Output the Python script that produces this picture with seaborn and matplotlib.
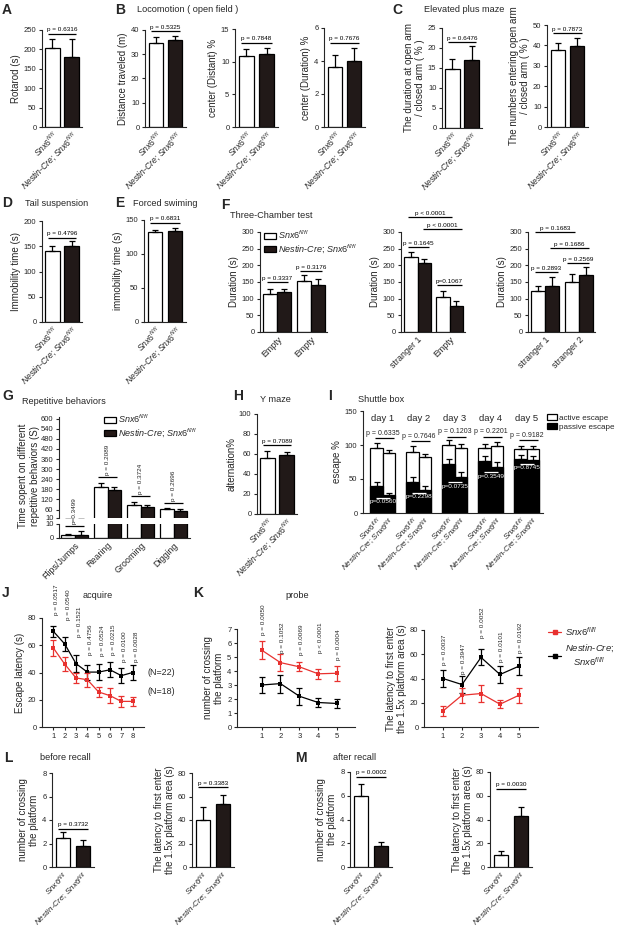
import numpy as np
import pandas as pd
import matplotlib.pyplot as plt
import seaborn as sns
from matplotlib.patches import Patch
from matplotlib.lines import Line2D

sns.set_style("ticks")
plt.rcParams['font.family'] = ['Liberation Sans', 'DejaVu Sans']
plt.rcParams['mathtext.fontset'] = 'custom'
plt.rcParams['mathtext.rm'] = 'Liberation Sans'
plt.rcParams['mathtext.it'] = 'Liberation Sans:italic'
plt.rcParams['axes.linewidth'] = 0.8

W, H = 617, 931
WHITE, DARK, RED = 'white', '#231816', '#e8312f'
TICK, LAB, XT, PFS, TITLE, LETTER = 5.5, 7, 6.2, 4.6, 6.6, 10

SNX = r"$\mathit{Snx6}^{\mathit{fl/fl}}$"
NES = r"$\mathit{Nestin}$-$\mathit{Cre}$; " + SNX
GENO = [SNX, NES]

# ---- data ----
rotarod, rotarod_err = [204, 181], [22, 45]
distance, distance_err = [34.8, 35.8], [2.4, 1.6]
center_dist, center_dist_err = [10.8, 11.2], [1.1, 0.9]
center_dur, center_dur_err = [3.65, 4.0], [0.7, 0.8]
epm_dur, epm_dur_err = [14.8, 16.9], [2.4, 3.6]
epm_num, epm_num_err = [37.8, 39.5], [3.5, 4.0]
tail, tail_err = [140, 151], [10, 9]
swim, swim_err = [132, 134], [4, 4]

f1_labels = ['Empty', 'Empty']
f1_snx, f1_snx_err = [114, 153], [15, 18]
f1_nes, f1_nes_err = [119, 141], [10, 18]
f2_labels = ['stranger 1', 'Empty']
f2_snx, f2_snx_err = [226, 106], [15, 18]
f2_nes, f2_nes_err = [207, 79], [12, 14]
f3_labels = ['stranger 1', 'stranger 2']
f3_snx, f3_snx_err = [123, 150], [16, 24]
f3_nes, f3_nes_err = [139, 171], [26, 24]

behaviors = ['Flips/Jumps', 'Rearing', 'Grooming', 'Digging']
rep_snx, rep_snx_err = [1.8, 193, 86, 63], [1.3, 23, 19, 9]
rep_nes, rep_nes_err = [2.3, 174, 76, 51], [2.5, 19, 14, 12]
rep_p = ['p=0.3499', 'p = 0.2089', 'p = 0.3724', 'p = 0.2696']
rep_p_y = [8.5, 251, 138, 99]

ymaze, ymaze_err = [55.7, 59], [7.6, 3]

days = ['day 1', 'day 2', 'day 3', 'day 4', 'day 5']
tot_snx, tot_snx_err = [96, 90, 100, 96, 94], [7, 8, 8, 5, 5]
tot_nes, tot_nes_err = [88, 82, 96, 98, 94], [5, 5, 6, 6, 4]
pas_snx, pas_snx_err = [39, 45, 72, 77, 80], [6, 8, 8, 7, 6]
pas_nes, pas_nes_err = [27, 34, 53, 68, 78], [3, 6, 7, 7, 6]
tot_p = ['p = 0.6335', 'p = 0.7646', 'p = 0.1203', 'p = 0.2201', 'p = 0.9182']
tot_p_y = [110, 106, 112, 112, 107]
pas_p = ['p=0.0560', 'p=0.2298', 'p=0.0735', 'p=0.3549', 'p=0.8745']
pas_p_y = [22, 30, 45, 60, 72]

acq_x = [1, 2, 3, 4, 5, 6, 7, 8]
acq_nes, acq_nes_err = [70.2, 61, 46.5, 40.3, 40.3, 42, 37.7, 40], [4, 5, 6, 5.5, 6, 5.5, 5.5, 5.5]
acq_snx, acq_snx_err = [58, 46.2, 36, 34.7, 25.7, 23, 18.8, 18.8], [5.6, 5, 4, 5.3, 4, 5.6, 4.2, 3.2]
acq_p = ['p = 0.0517', 'p = 0.0540', 'p = 0.1521', 'p = 0.4756', 'p = 0.0524', 'p = 0.0215', 'p = 0.0100', 'p = 0.0028']
acq_p_y = [82, 78.5, 66, 53, 52, 53, 48, 47.5]

probe_x = [1, 2, 3, 4, 5]
cross_snx, cross_snx_err = [5.5, 4.6, 4.3, 3.8, 3.84], [0.65, 0.6, 0.33, 0.35, 0.52]
cross_nes, cross_nes_err = [3.0, 3.1, 2.2, 1.75, 1.68], [0.55, 0.65, 0.6, 0.34, 0.32]
cross_p = ['p = 0.0050', 'p = 0.1052', 'p = 0.0069', 'p < 0.0001', 'p = 0.0004']
cross_p_y = [6.6, 5.28, 5.16, 5.28, 4.8]
lat_snx, lat_snx_err = [13.2, 26.2, 27.6, 18.8, 26.2], [4.2, 6, 6.9, 3.3, 6]
lat_nes, lat_nes_err = [40, 35, 57.4, 43.3, 50.2], [6.9, 7, 6.6, 6.9, 7.2]
lat_p = ['p = 0.0037', 'p = 0.3947', 'p = 0.0052', 'p = 0.0101', 'p = 0.0192']
lat_p_y = [51, 44, 73, 54, 60.7]

bef_cross, bef_cross_err = [2.43, 1.77], [0.54, 0.49]
bef_lat, bef_lat_err = [40.3, 53.2], [10.4, 8.2]
aft_cross, aft_cross_err = [6.0, 1.77], [1.0, 0.34]
aft_lat, aft_lat_err = [10.3, 42.7], [3.2, 7.8]

fig = plt.figure(figsize=(W / 100, H / 100), dpi=100)


def px_axes(x0, x1, ytop, ybot):
    return fig.add_axes([x0 / W, 1 - ybot / H, (x1 - x0) / W, (ybot - ytop) / H])


def ftext(x, y, s, **kw):
    fig.text(x / W, 1 - y / H, s, **kw)


def style(ax, ymin, ymax, step, ylabel, bars=True):
    ax.set_ylim(ymin, ymax)
    ax.set_yticks(np.arange(ymin, ymax + step / 2, step))
    sns.despine(ax=ax)
    ax.tick_params(labelsize=TICK, length=2.5, width=0.8, pad=1.5)
    if bars:
        ax.tick_params(axis='x', length=0, pad=2)
    ax.set_ylabel(ylabel, fontsize=LAB, labelpad=2)
    ax.set_xlabel('')


def bracket(ax, x0, x1, y, txt, color='black', above=True, fs=PFS):
    ax.plot([x0, x1], [y, y], color=color, lw=0.9, clip_on=False, solid_capstyle='butt')
    ax.annotate(txt, ((x0 + x1) / 2, y), xytext=(0, 1 if above else -1.5),
                textcoords='offset points', ha='center',
                va='bottom' if above else 'top', fontsize=fs, color=color,
                annotation_clip=False)


def xlabels(ax, ticks, labels, fs=XT):
    ax.set_xticks(ticks)
    ax.set_xticklabels(labels, rotation=45, ha='right', rotation_mode='anchor', fontsize=fs)


def bars2(rect, vals, errs, ymax, step, ylabel, py=None, ptxt=None, fs=XT):
    ax = px_axes(*rect)
    df = pd.DataFrame({'g': ['a', 'b'], 'v': vals})
    sns.barplot(data=df, x='g', y='v', hue='g', palette=[WHITE, DARK], edgecolor='black',
                linewidth=0.9, width=0.74, legend=False, ax=ax)
    ax.errorbar([0, 1], vals, yerr=[[0, 0], errs], fmt='none', ecolor='black',
                elinewidth=0.9, capsize=2.5, capthick=0.9)
    ax.set_xlim(-0.55, 1.55)
    style(ax, 0, ymax, step, ylabel)
    xlabels(ax, [0, 1], GENO, fs=fs)
    if py is not None:
        bracket(ax, -0.25, 1.25, py, ptxt)
    return ax


def bars_grouped(rect, labels, snx, snx_e, nes, nes_e, ylabel):
    ax = px_axes(*rect)
    df = pd.DataFrame({'c': ['c0', 'c1', 'c0', 'c1'], 'g': ['a', 'a', 'b', 'b'],
                       'v': snx + nes})
    sns.barplot(data=df, x='c', y='v', hue='g', palette=[WHITE, DARK], edgecolor='black',
                linewidth=0.9, width=0.84, legend=False, ax=ax)
    ax.errorbar([-0.21, 0.79], snx, yerr=[[0, 0], snx_e], fmt='none', ecolor='black',
                elinewidth=0.9, capsize=2.3, capthick=0.9)
    ax.errorbar([0.21, 1.21], nes, yerr=[[0, 0], nes_e], fmt='none', ecolor='black',
                elinewidth=0.9, capsize=2.3, capthick=0.9)
    ax.set_xlim(-0.52, 1.48)
    style(ax, 0, 300, 50, ylabel)
    xlabels(ax, [0, 1], labels, fs=6.4)
    return ax


def lines(ax, x, red, red_e, blk, blk_e):
    for v, e, c in ((blk, blk_e, 'black'), (red, red_e, RED)):
        sns.lineplot(x=x, y=v, color=c, marker='s', markersize=3, markeredgewidth=0,
                     lw=0.9, ax=ax)
        ax.errorbar(x, v, yerr=e, fmt='none', ecolor=c, elinewidth=0.9, capsize=2,
                    capthick=0.9)


def ptexts(ax, x, ys, txts, dx):
    for xi, y, t in zip(x, ys, txts):
        ax.text(xi + dx, y, t, rotation=90, ha='center', va='bottom', fontsize=PFS,
                clip_on=False)


# ---- panel letters and titles ----
for s, x, y in [('A', 2, 3), ('B', 115, 3), ('C', 392, 3), ('D', 2, 196), ('E', 115, 196),
                ('F', 221, 198), ('G', 2, 389), ('H', 233, 389), ('I', 328, 389),
                ('J', 2, 586), ('K', 193, 586), ('L', 4, 751), ('M', 295, 751)]:
    ftext(x, y, s, fontsize=LETTER, fontweight='bold', va='top', ha='left')

for s, x, y in [('Locomotion ( open field )', 137, 10), ('Elevated plus maze', 424, 9),
                ('Tail suspension', 25, 204), ('Forced swiming', 133, 204),
                ('Three-Chamber test', 230, 216), ('Repetitive behaviors', 22, 402),
                ('Y maze', 260, 400), ('Shuttle box', 358, 399),
                ('before recall', 40, 757), ('after recall', 333, 757)]:
    ftext(x, y, s, fontsize=TITLE, va='center', ha='left')
ftext(98, 596, 'acquire', fontsize=TITLE, va='center', ha='center')
ftext(297, 596, 'probe', fontsize=TITLE, va='center', ha='center')

# ---- row 1 ----
bars2((42, 82, 30, 127), rotarod, rotarod_err, 250, 50, 'Rotarod (s)', 240, 'p = 0.6316')
bars2((145, 186, 30, 127), distance, distance_err, 40, 10, 'Distance traveled (m)', 39.5, 'p = 0.5325')
bars2((235, 278, 29, 127), center_dist, center_dist_err, 15, 5, 'center (Distant) %', 12.9, 'p = 0.7848')
bars2((324, 365, 28, 127), center_dur, center_dur_err, 6, 2, 'center (Duration) %', 5.1, 'p = 0.7676')
bars2((442, 482, 28, 128), epm_dur, epm_dur_err, 25, 5,
      'The duration at open arm\n/ closed arm ( % )', 21.5, 'p = 0.6476')
bars2((547, 588, 25, 127), epm_num, epm_num_err, 50, 10,
      'The numbers entering open arm\n/ closed arm ( % )', 46, 'p = 0.7873')

# ---- row 2 ----
bars2((42, 82, 221, 322), tail, tail_err, 200, 50, 'Immobility time (s)', 167, 'p = 0.4796')
bars2((144, 186, 220, 322), swim, swim_err, 150, 50, 'immobility time (s)', 146, 'p = 0.6831')

ax = bars_grouped((260, 327, 232, 332), f1_labels, f1_snx, f1_snx_err, f1_nes, f1_nes_err, 'Duration (s)')
bracket(ax, -0.32, 0.32, 150, 'p = 0.3337')
bracket(ax, 0.68, 1.32, 183, 'p = 0.3176')
fig.legend(handles=[Patch(facecolor=WHITE, edgecolor='black', lw=0.9, label=SNX),
                    Patch(facecolor=DARK, edgecolor='black', lw=0.9, label=NES)],
           loc='upper left', bbox_to_anchor=(264 / W, 1 - 229 / H), frameon=False,
           fontsize=6.5, handlelength=1.3, handleheight=0.7, handletextpad=0.3,
           labelspacing=0.1, borderpad=0, borderaxespad=0)

ax = bars_grouped((401, 465, 232, 332), f2_labels, f2_snx, f2_snx_err, f2_nes, f2_nes_err, 'Duration (s)')
bracket(ax, -0.3, 1.08, 345, 'p < 0.0001')
bracket(ax, 0.17, 1.4, 309, 'p < 0.0001')
bracket(ax, -0.3, 0.35, 255, 'p = 0.1645')
bracket(ax, 0.6, 1.4, 141, 'p=0.1067')

ax = bars_grouped((528, 595, 232, 332), f3_labels, f3_snx, f3_snx_err, f3_nes, f3_nes_err, 'Duration (s)')
bracket(ax, -0.31, 0.88, 300, 'p = 0.1683')
bracket(ax, 0.13, 1.3, 252, 'p = 0.1686')
bracket(ax, 0.64, 1.3, 207, 'p = 0.2569')
bracket(ax, -0.31, 0.37, 180, 'p = 0.2893')

# ---- row 3: G broken axis ----
g_top = px_axes(59, 190, 417, 518)
g_bot = px_axes(59, 190, 524, 538)
df_g = pd.DataFrame({'b': behaviors * 2, 'g': ['a'] * 4 + ['b'] * 4, 'v': rep_snx + rep_nes})
pos = np.arange(4)
for ax in (g_top, g_bot):
    sns.barplot(data=df_g, x='b', y='v', hue='g', palette=[WHITE, DARK], edgecolor='black',
                linewidth=0.9, width=0.84, legend=False, ax=ax)
    ax.errorbar(pos - 0.21, rep_snx, yerr=[[0] * 4, rep_snx_err], fmt='none', ecolor='black',
                elinewidth=0.9, capsize=2.3, capthick=0.9)
    ax.errorbar(pos + 0.21, rep_nes, yerr=[[0] * 4, rep_nes_err], fmt='none', ecolor='black',
                elinewidth=0.9, capsize=2.3, capthick=0.9)
    ax.set_xlim(-0.47, 3.5)
style(g_top, 10, 600, 60, '')
g_top.set_yticks([10, 60, 120, 180, 240, 300, 360, 420, 480, 540, 600])
sns.despine(ax=g_top, bottom=True)
g_top.set_xticks([])
style(g_bot, 0, 10, 10, '')
xlabels(g_bot, pos, behaviors, fs=6.4)
ftext(29, 476, 'Time sopent on different\nrepetitive behaviors (S)', fontsize=LAB,
      rotation=90, ha='center', va='center')
bracket(g_bot, -0.3, 0.3, rep_p_y[0], '')
g_bot.text(0, rep_p_y[0] + 1.5, rep_p[0], rotation=90, ha='center', va='bottom',
           fontsize=PFS, clip_on=False)
for i in range(1, 4):
    bracket(g_top, i - 0.3, i + 0.3, rep_p_y[i], '')
    g_top.text(i, rep_p_y[i] + 12, rep_p[i], rotation=90, ha='center', va='bottom',
               fontsize=PFS)
fig.legend(handles=[Patch(facecolor=WHITE, edgecolor='black', lw=0.9, label=SNX),
                    Patch(facecolor=DARK, edgecolor='black', lw=0.9, label=NES)],
           loc='upper left', bbox_to_anchor=(104 / W, 1 - 413 / H), frameon=False,
           fontsize=6.5, handlelength=1.3, handleheight=0.7, handletextpad=0.3,
           labelspacing=0.1, borderpad=0, borderaxespad=0)

# H
bars2((257, 297, 414, 514), ymaze, ymaze_err, 100, 20, 'alternation%', 69, 'p = 0.7089')

# I shuttle box
ax = px_axes(363, 543, 411, 513)
dpos = np.arange(5)
df_tot = pd.DataFrame({'d': days * 2, 'g': ['a'] * 5 + ['b'] * 5, 'v': tot_snx + tot_nes})
df_pas = pd.DataFrame({'d': days * 2, 'g': ['a'] * 5 + ['b'] * 5, 'v': pas_snx + pas_nes})
sns.barplot(data=df_tot, x='d', y='v', hue='g', palette=[WHITE, WHITE], edgecolor='black',
            linewidth=0.9, width=0.7, legend=False, ax=ax)
sns.barplot(data=df_pas, x='d', y='v', hue='g', palette=['black', 'black'], edgecolor='black',
            linewidth=0.9, width=0.7, legend=False, ax=ax)
for v, e, off in ((tot_snx, tot_snx_err, -0.175), (tot_nes, tot_nes_err, 0.175),
                  (pas_snx, pas_snx_err, -0.175), (pas_nes, pas_nes_err, 0.175)):
    ax.errorbar(dpos + off, v, yerr=[[0] * 5, e], fmt='none', ecolor='black',
                elinewidth=0.9, capsize=2.2, capthick=0.9)
ax.set_xlim(-0.55, 4.45)
style(ax, 0, 150, 50, 'escape %')
xlabels(ax, np.concatenate([dpos - 0.175, dpos + 0.175]),
        [SNX] * 5 + [NES] * 5, fs=5.8)
for i in range(5):
    ax.text(i, 139, days[i], ha='center', va='center', fontsize=6.8)
    bracket(ax, i - 0.22, i + 0.32, tot_p_y[i], '')
    ax.text(i, tot_p_y[i] + 2, tot_p[i], ha='center', va='bottom', fontsize=5)
    bracket(ax, i - 0.2, i + 0.2, pas_p_y[i], '', color='white')
    ax.text(i, pas_p_y[i] - 2, pas_p[i], ha='center', va='top', fontsize=4.6, color='white')
fig.legend(handles=[Patch(facecolor=WHITE, edgecolor='black', lw=0.9, label='active escape'),
                    Patch(facecolor='black', edgecolor='black', lw=0.9, label='passive escape')],
           loc='upper left', bbox_to_anchor=(547 / W, 1 - 414 / H), frameon=False,
           fontsize=5.8, handlelength=1.2, handleheight=0.7, handletextpad=0.3,
           labelspacing=0.2, borderpad=0, borderaxespad=0)

# ---- row 4: J, K ----
ax = px_axes(42, 144, 618, 727)
lines(ax, acq_x, acq_snx, acq_snx_err, acq_nes, acq_nes_err)
ax.set_xlim(0, 9)
ax.set_xticks(acq_x)
style(ax, 0, 80, 20, 'Escape latency (s)', bars=False)
ptexts(ax, acq_x, acq_p_y, acq_p, 0.3)
ax.text(9.3, 40, '(N=22)', fontsize=6.4, va='center', clip_on=False)
ax.text(9.3, 26, '(N=18)', fontsize=6.4, va='center', clip_on=False)

ax = px_axes(237, 355, 629, 727)
lines(ax, probe_x, cross_snx, cross_snx_err, cross_nes, cross_nes_err)
ax.set_xlim(-0.3, 5.95)
ax.set_xticks(probe_x)
style(ax, 0, 7, 1, 'number of crossing\nthe platform', bars=False)
ptexts(ax, probe_x, cross_p_y, cross_p, 0.1)

ax = px_axes(424, 538, 630, 727)
lines(ax, probe_x, lat_snx, lat_snx_err, lat_nes, lat_nes_err)
ax.set_xlim(0, 6)
ax.set_xticks(probe_x)
style(ax, 0, 80, 20, 'The latency to first enter\nthe 1.5x platform area (s)', bars=False)
ptexts(ax, probe_x, lat_p_y, lat_p, 0.1)
leg = fig.legend(handles=[Line2D([], [], color=RED, marker='s', markersize=3, lw=0.9, label=SNX),
                          Line2D([], [], color='black', marker='s', markersize=3, lw=0.9,
                                 label=r"$\mathit{Nestin}$-$\mathit{Cre}$;" + "\n" + SNX)],
                 loc='upper left', bbox_to_anchor=(548 / W, 1 - 625 / H), frameon=False,
                 fontsize=6.8, handlelength=1.4, handletextpad=0.4, labelspacing=0.5,
                 borderpad=0, borderaxespad=0)
for t in leg.get_texts():
    t.set_multialignment('center')

# ---- row 5: L, M ----
LAT = 'The latency to first enter\nthe 1.5x platform area (s)'
CRS = 'number of crossing\nthe platform'
bars2((52, 94, 773, 867), bef_cross, bef_cross_err, 8, 2, CRS, 3.26, 'p = 0.3732', fs=5.9)
bars2((192, 234, 773, 867), bef_lat, bef_lat_err, 80, 20, LAT, 68, 'p = 0.3383', fs=5.9)
bars2((350, 392, 772, 867), aft_cross, aft_cross_err, 8, 2, CRS, 7.6, 'p = 0.0002', fs=5.9)
bars2((490, 532, 772, 867), aft_lat, aft_lat_err, 80, 20, LAT, 66, 'p = 0.0030', fs=5.9)

fig.savefig('out.png', dpi=100)
